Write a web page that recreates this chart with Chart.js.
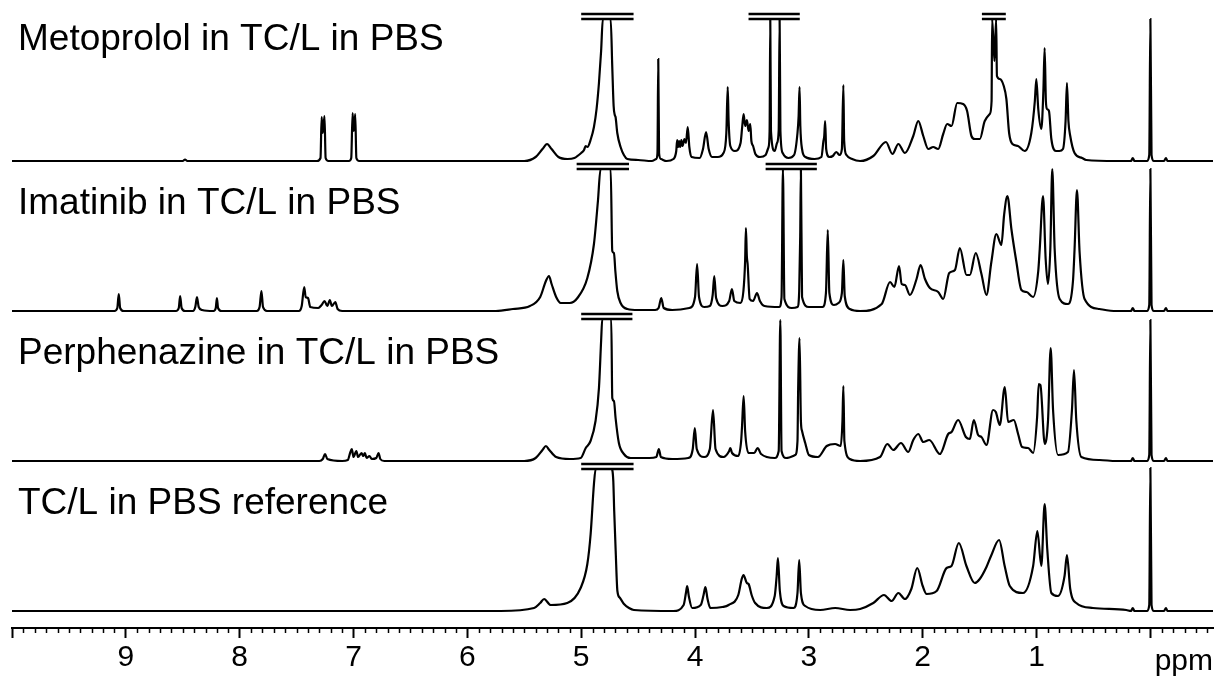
<!DOCTYPE html>
<html>
<head>
<meta charset="utf-8">
<script src="https://cdn.jsdelivr.net/npm/chart.js@4.4.1/dist/chart.umd.min.js"></script>
<style>
  html, body { margin: 0; background: #fff; }
  #wrap { width: 1217px; height: 677px; }
</style>
</head>
<body>
<div id="wrap"><canvas id="nmr"></canvas></div>
<script>
// 1H NMR traces, [ppm, intensity] (intensity in px above each baseline)

var traceLabels = ['Metoprolol in TC/L in PBS', 'Imatinib in TC/L in PBS',
                   'Perphenazine in TC/L in PBS', 'TC/L in PBS reference'];

var metoprolol = [
  [10,0],[8.50,0],[8.48,1.5],[8.46,0],
  [7.32,0],[7.29,3],[7.28,44],[7.27,28],[7.255,45],[7.245,3],[7.22,0],
  [7.04,0],[7.02,3],[7.008,48],[6.998,30],[6.985,47],[6.975,3],[6.95,0],
  [5.50,0],[5.40,4],[5.34,12],[5.30,17],[5.26,12],[5.20,4],[5.12,2],
  [5.06,3],[5.00,8],[4.975,11],[4.961,15],[4.945,14],[4.915,22],[4.888,34],[4.865,52],[4.844,78],[4.825,110],
  [4.81,142],[4.741,142],[4.727,94],[4.715,55],[4.705,46],[4.698,44],[4.683,28],[4.654,14],[4.625,6],[4.595,2],[4.50,1],[4.38,0],
  [4.34,2],[4.33,8],[4.323,102],[4.316,8],[4.30,2],[4.25,0],
  [4.19,2],[4.165,10],[4.157,21],[4.15,14],[4.14,20],[4.13,14],[4.12,21],[4.11,15],[4.093,22],[4.08,18],[4.064,34],[4.05,14],[4.03,4],
  [3.96,3],[3.93,12],[3.903,29],[3.88,12],[3.85,4],[3.80,4],
  [3.75,8],[3.725,28],[3.713,74],[3.705,40],[3.69,15],[3.65,10],
  [3.60,18],[3.585,35],[3.573,47],[3.56,35],[3.544,41],[3.53,30],[3.515,37],[3.505,20],[3.49,15],[3.47,7],[3.43,4],[3.38,6],
  [3.36,12],[3.354,14],[3.345,30],[3.339,142],[3.333,30],[3.30,10],[3.28,18],[3.265,31],[3.257,142],[3.25,30],[3.23,8],[3.18,3],
  [3.13,6],[3.10,28],[3.09,45],[3.082,74],[3.075,35],[3.06,12],[3.03,4],[2.95,2],
  [2.89,4],[2.872,20],[2.865,25],[2.857,40],[2.848,12],[2.82,4],[2.79,5],[2.76,9],[2.73,6],[2.71,12],
  [2.697,76],[2.69,20],[2.67,6],[2.62,2],[2.55,0],
  [2.434,5],[2.323,19],[2.266,7],[2.214,17],[2.156,8],[2.083,25],[2.039,40],[1.995,25],[1.951,12],[1.908,14],[1.864,12],
  [1.820,27],[1.785,37],[1.747,35],[1.697,58],[1.645,57],[1.610,50],[1.572,25],[1.543,22],[1.498,22],[1.455,40],[1.411,47],
  [1.395,60],[1.39,142],[1.37,100],[1.355,142],[1.348,85],[1.323,82],[1.288,75],[1.265,62],[1.241,28],[1.212,17],[1.163,15],
  [1.104,10],[1.046,28],[1.015,60],[1.002,82],[0.985,52],[0.958,32],[0.94,70],[0.929,113],[0.918,60],[0.908,52],[0.891,50],
  [0.870,22],[0.83,10],[0.80,10],[0.768,12],[0.745,40],[0.733,78],[0.72,40],[0.704,25],[0.666,8],[0.60,3],[0.564,1],
  [0.30,0],[0.17,0],[0.155,3],[0.14,0],[0.03,0],[0.01,6],[0,142],[-0.01,6],[-0.03,0],[-0.12,0],[-0.137,3],[-0.15,0],[-0.55,0]
];

var imatinib = [
  [10,0],[9.10,0],[9.075,3],[9.062,17],[9.05,3],[9.02,0],
  [8.56,0],[8.535,3],[8.523,15],[8.51,3],[8.48,0],
  [8.41,0],[8.39,4],[8.375,14],[8.36,4],[8.33,1],
  [8.23,0],[8.21,3],[8.20,13],[8.19,3],[8.16,0],
  [7.85,0],[7.825,4],[7.809,20],[7.795,4],[7.76,0],
  [7.48,0],[7.455,5],[7.433,24],[7.42,14],[7.40,13],[7.38,4],[7.31,3],[7.28,6],[7.255,10],[7.23,5],[7.208,11],[7.19,5],[7.16,9],[7.14,2],[7.10,0],
  [5.75,0],[5.60,2],[5.45,5],[5.36,14],[5.31,30],[5.283,35],[5.26,27],[5.22,14],[5.18,8],[5.10,8],[5.033,13],[4.946,33],
  [4.888,67],[4.853,110],[4.83,142],[4.741,142],[4.727,60],[4.712,58],[4.70,40],[4.683,20],[4.654,8],[4.595,2],[4.50,1],[4.35,1],
  [4.32,3],[4.297,13],[4.275,3],[4.20,1],
  [4.05,3],[4.00,14],[3.982,47],[3.965,14],[3.92,4],
  [3.87,5],[3.845,16],[3.831,35],[3.815,13],[3.76,5],
  [3.70,10],[3.676,22],[3.655,10],[3.60,8],
  [3.575,20],[3.56,50],[3.553,83],[3.545,55],[3.538,47],[3.52,12],[3.49,10],[3.456,18],[3.43,10],[3.39,5],
  [3.26,4],[3.24,14],[3.228,142],[3.215,12],[3.15,3],[3.10,4],[3.085,20],[3.076,75],[3.07,142],[3.06,14],[3.00,4],
  [2.88,4],[2.85,18],[2.834,81],[2.82,18],[2.78,6],[2.74,8],[2.71,18],[2.697,51],[2.685,15],[2.64,2],[2.55,0],
  [2.36,7],[2.287,29],[2.249,24],[2.208,45],[2.185,27],[2.156,26],[2.112,16],[2.054,32],[2.019,46],[1.98,32],[1.937,23],
  [1.864,19],[1.82,12],[1.767,38],[1.717,41],[1.674,63],[1.615,36],[1.586,36],[1.534,58],[1.484,37],[1.44,16],[1.397,49],
  [1.353,77],[1.309,66],[1.285,96],[1.256,115],[1.221,82],[1.177,49],[1.133,21],[1.088,19],[1.03,14],[0.985,40],[0.972,62],
  [0.943,115],[0.92,52],[0.90,27],[0.879,62],[0.862,142],[0.841,62],[0.797,12],[0.724,7],[0.68,30],[0.666,62],[0.645,121],
  [0.622,59],[0.578,12],[0.447,2],
  [0.30,0],[0.17,0],[0.155,3],[0.14,0],[0.03,0],[0.01,6],[0,142],[-0.01,6],[-0.03,0],[-0.12,0],[-0.137,3],[-0.15,0],[-0.55,0]
];

var perphenazine = [
  [10,0],[7.30,0],[7.27,2],[7.25,7],[7.23,2],[7.10,0],[7.05,1],[7.03,8],[7.015,12],[7.00,4],[6.975,10],[6.96,4],[6.93,8],
  [6.915,5],[6.90,8],[6.885,3],[6.86,5],[6.84,2],[6.80,3],[6.78,8],[6.765,2],[6.73,0],
  [5.50,0],[5.40,3],[5.34,11],[5.31,15],[5.28,11],[5.22,4],[5.10,2],
  [5.005,3],[4.96,13],[4.918,20],[4.874,40],[4.844,73],[4.825,120],[4.815,142],[4.736,142],[4.727,63],[4.712,60],[4.698,43],
  [4.669,18],[4.625,7],[4.566,3],[4.40,3],[4.34,4],[4.318,12],[4.30,4],[4.20,2],
  [4.06,3],[4.02,12],[4.002,33],[3.985,12],[3.92,4],[3.87,12],[3.842,51],[3.82,12],[3.75,4],[3.70,10],[3.69,13],[3.675,8],
  [3.62,5],[3.595,20],[3.587,35],[3.573,65],[3.56,30],[3.53,8],[3.48,8],[3.45,13],[3.42,7],[3.30,3],[3.265,10],[3.251,141],
  [3.24,10],[3.20,3],[3.12,6],[3.10,20],[3.094,72],[3.082,123],[3.07,40],[3.06,30],[3.032,18],[3.00,6],[2.92,4],[2.843,15],
  [2.77,17],[2.72,15],[2.705,40],[2.697,75],[2.688,20],[2.64,2],[2.55,0],
  [2.375,4],[2.311,17],[2.258,11],[2.191,18],[2.127,9],[2.083,21],[2.039,27],[1.995,19],[1.942,21],[1.849,7],[1.776,27],
  [1.747,29],[1.689,41],[1.621,24],[1.586,22],[1.551,41],[1.513,26],[1.484,24],[1.44,16],[1.382,51],[1.358,49],[1.323,36],
  [1.279,74],[1.25,39],[1.20,41],[1.162,27],[1.127,14],[1.074,13],[1.03,8],[0.995,44],[0.981,77],[0.966,76],[0.928,17],
  [0.899,41],[0.876,113],[0.855,51],[0.811,6],[0.724,9],[0.689,51],[0.671,91],[0.651,41],[0.607,4],[0.447,1],
  [0.30,0],[0.17,0],[0.155,3],[0.14,0],[0.03,0],[0.01,6],[0,141],[-0.01,6],[-0.03,0],[-0.12,0],[-0.137,3],[-0.15,0],[-0.55,0]
];

var reference = [
  [10,0],[5.706,0],[5.414,3],[5.36,8],[5.326,12],[5.268,6],[5.122,8],[5.005,23],[4.946,47],[4.917,77],[4.888,127],
  [4.873,142],[4.733,142],[4.718,130],[4.71,100],[4.697,60],[4.682,20],[4.659,13],[4.624,7],[4.58,3],[4.537,1],[4.19,0],
  [4.10,6],[4.08,18],[4.069,25],[4.055,15],[4.025,3],[3.95,6],[3.925,16],[3.909,24],[3.89,12],[3.865,3],[3.76,4],[3.705,6],
  [3.62,16],[3.59,32],[3.574,36],[3.545,28],[3.53,27],[3.50,15],[3.472,8],[3.369,3],[3.30,15],[3.283,35],[3.272,53],
  [3.255,20],[3.222,5],[3.135,3],[3.10,18],[3.085,51],[3.07,18],[3.032,5],[2.90,1],[2.769,3],[2.638,1],[2.55,2],
  [2.434,8],[2.34,16],[2.273,10],[2.214,18],[2.156,12],[2.10,22],[2.048,43],[2.00,25],[1.966,17],[1.878,20],[1.79,43],
  [1.747,45],[1.683,68],[1.616,45],[1.543,28],[1.499,32],[1.44,44],[1.40,55],[1.329,71],[1.28,45],[1.235,25],[1.119,18],
  [1.03,45],[0.993,80],[0.958,45],[0.929,107],[0.906,62],[0.87,18],[0.812,15],[0.754,35],[0.733,56],[0.704,22],[0.651,8],
  [0.505,3],[0.212,1],
  [0.17,0],[0.155,3],[0.14,0],[0.03,0],[0.01,6],[0,143],[-0.01,6],[-0.03,0],[-0.12,0],[-0.137,3],[-0.15,0],[-0.55,0]
];

// truncated peaks: [trace index, ppm from, ppm to]
var clipMarks = [[0, 5.00, 4.54], [0, 3.53, 3.08], [0, 1.48, 1.27],
                 [1, 5.04, 4.58], [1, 3.38, 2.93],
                 [2, 5.00, 4.55],
                 [3, 5.00, 4.54]];
var clipLevels = [142, 147];

var majorTicks = [1, 2, 3, 4, 5, 6, 7, 8, 9];

var traces = [metoprolol, imatinib, perphenazine, reference];
var panelOffsets = [450, 300, 150, 0];
var labelRise = [111, 97, 97, 97];

var datasets = [];
traces.forEach(function (pts, i) {
  datasets.push({
    data: pts.map(function (p) { return { x: p[0], y: p[1] + panelOffsets[i] }; }),
    borderColor: '#000',
    borderWidth: 2.2,
    pointRadius: 0,
    cubicInterpolationMode: 'monotone'
  });
});
clipMarks.forEach(function (m) {
  clipLevels.forEach(function (lv) {
    datasets.push({
      data: [{ x: m[1], y: lv + panelOffsets[m[0]] }, { x: m[2], y: lv + panelOffsets[m[0]] }],
      borderColor: '#000',
      borderWidth: 2.5,
      pointRadius: 0
    });
  });
});

var labelFont = '"Liberation Sans", Arial, sans-serif';

var decorPlugin = {
  id: 'decor',
  afterDraw: function (chart) {
    var ctx = chart.ctx, x = chart.scales.x, y = chart.scales.y, area = chart.chartArea;
    ctx.save();
    ctx.fillStyle = '#000';
    ctx.font = '37px ' + labelFont;
    ctx.textBaseline = 'alphabetic';
    traceLabels.forEach(function (t, i) {
      ctx.fillText(t, 18, y.getPixelForValue(panelOffsets[i] + labelRise[i]));
    });
    // minor ticks every 0.1 ppm
    ctx.strokeStyle = '#000';
    ctx.lineWidth = 1.5;
    for (var k = -5; k <= 100; k++) {
      if (k % 10 === 0) continue;
      var px = Math.round(x.getPixelForValue(k / 10)) + 0.5;
      ctx.beginPath();
      ctx.moveTo(px, area.bottom);
      ctx.lineTo(px, area.bottom + 5);
      ctx.stroke();
    }
    ctx.font = '30px ' + labelFont;
    ctx.textAlign = 'right';
    ctx.fillText('ppm', area.right, 670);
    ctx.restore();
  }
};

Chart.defaults.font.family = labelFont;
Chart.defaults.color = '#000';

new Chart(document.getElementById('nmr'), {
  type: 'line',
  data: { datasets: datasets },
  options: {
    responsive: true,
    maintainAspectRatio: false,
    animation: false,
    layout: { padding: { left: 12, right: 4, top: 0, bottom: 0 } },
    plugins: { legend: { display: false }, tooltip: { enabled: false } },
    scales: {
      x: {
        type: 'linear',
        reverse: true,
        min: -0.55,
        max: 10,
        afterFit: function (s) { s.height = 49; },
        border: { display: true, color: '#000', width: 2 },
        grid: { drawOnChartArea: false, drawTicks: true, tickLength: 10, tickColor: '#000', tickWidth: 2 },
        ticks: {
          stepSize: 1,
          includeBounds: false,
          autoSkip: false,
          maxRotation: 0,
          padding: 2,
          font: { size: 30 },
          callback: function (v) { return majorTicks.indexOf(v) >= 0 ? String(v) : ''; }
        }
      },
      y: { display: false, min: -17, max: 611 }
    }
  },
  plugins: [decorPlugin]
});
</script>
</body>
</html>
